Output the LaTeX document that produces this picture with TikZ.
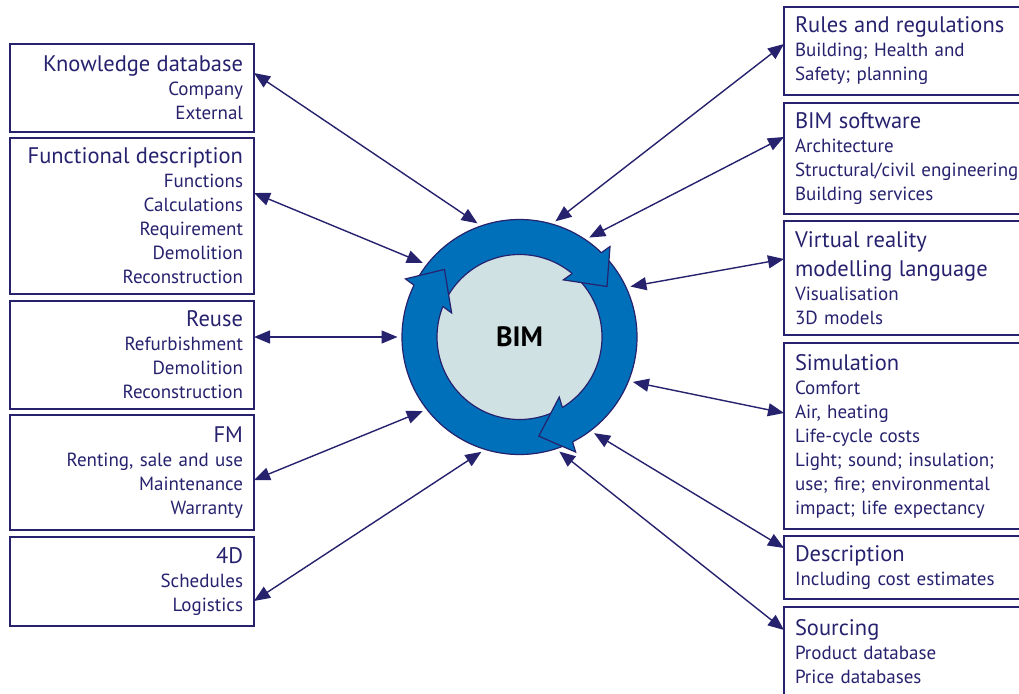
\documentclass[tikz,border=0pt]{standalone}
\usepackage{fontspec}
\setmainfont{PT Sans}
\usetikzlibrary{arrows.meta,calc}
\definecolor{navy}{RGB}{38,34,110}
\definecolor{ringblue}{RGB}{0,112,186}
\definecolor{corefill}{RGB}{208,225,228}
\newcommand\bsubfont{\fontsize{19}{24}\selectfont}
\newcommand\bttlfont{\fontsize{22.5}{24}\selectfont}
\newcommand\ringhead[1]{%
  \path (#1:128pt) coordinate (ow) (#1-15:101pt) coordinate (tp) (#1+7.5:72pt) coordinate (iw);
  \fill[ringblue] (ow) -- (tp) -- (iw) -- cycle;
  \draw[navy, line width=1.2pt, line join=miter] ($(iw)!0.81!(ow)$) -- (ow) -- (tp) -- (iw) -- ($(iw)!0.19!(ow)$);
}
\begin{document}
\begin{tikzpicture}[x=1pt,y=-1pt,
  box/.style={draw=navy, line width=1.4pt, inner xsep=11pt, inner ysep=0pt, outer sep=0pt,
    anchor=north west, font=\bsubfont, text=navy},
  lbox/.style={box, align=right, minimum width=244pt, text width=222pt},
  rbox/.style={box, align=left, minimum width=276pt, text width=254pt},
  conn/.style={draw=navy, line width=1.4pt, shorten >=4.5pt,
    {Triangle[length=16pt,width=13pt]}-{Triangle[length=16pt,width=13pt]}}
]
\useasboundingbox (0,0) rectangle (1019,693);
\clip (0,0) rectangle (1019,693);
\fill[white] (0,0) rectangle (1019,693);

% left boxes
\node[lbox, minimum height=88pt] (kd) at (10,44) {{\bttlfont Knowledge database}\\Company\\External};
\node[lbox, minimum height=156pt] (fd) at (10,138) {{\bttlfont Functional description}\\Functions\\Calculations\\Requirement\\Demolition\\Reconstruction};
\node[lbox, minimum height=108pt] (ru) at (10,301) {{\bttlfont Reuse}\\Refurbishment\\Demolition\\Reconstruction};
\node[lbox, minimum height=115pt] (fm) at (10,415) {{\bttlfont FM}\\Renting, sale and use\\Maintenance\\Warranty};
\node[lbox, minimum height=89pt] (fd4) at (10,537) {{\bttlfont 4D}\\Schedules\\Logistics};

% right boxes
\node[rbox, minimum height=88pt] (rr) at (784,7) {{\bttlfont Rules and regulations}\\Building; Health and\\Safety; planning};
\node[rbox, minimum height=111pt] (bs) at (784,103) {{\bttlfont BIM software}\\Architecture\\Structural/civil engineering\\Building services};
\node[rbox, minimum height=114pt] (vr) at (784,221) {{\bttlfont Virtual reality}\\[5pt]{\bttlfont modelling language}\\Visualisation\\3D models};
\node[rbox, minimum height=186pt] (si) at (784,343) {{\bttlfont Simulation}\\Comfort\\Air, heating\\Life-cycle costs\\Light; sound; insulation;\\use; fire; environmental\\impact; life expectancy};
\node[rbox, minimum height=63pt] (de) at (784,536) {{\bttlfont Description}\\Including cost estimates};
\node[rbox, minimum height=90pt] (so) at (784,607) {{\bttlfont Sourcing}\\Product database\\Price databases};

% BIM circle
\node[circle, minimum size=235pt, inner sep=0pt, outer sep=0pt, fill=ringblue, draw=navy, line width=1.2pt] (bim) at (519.5,337) {};
\node[circle, minimum size=165pt, inner sep=0pt, fill=corefill, draw=navy, line width=1.2pt,
  font=\bfseries\fontsize{28}{30}\selectfont, text=black] (core) at (bim.center) {BIM};
\begin{scope}[shift={(bim.center)}]
  \ringhead{45}
  \ringhead{153}
  \ringhead{296}
\end{scope}

% connectors
\draw[conn] (kd.east |- 0,73) -- (bim.109);
\draw[conn] (fd.east |- 0,193) -- (bim.142);
\draw[conn] (ru.east |- 0,337) -- (bim.180);
\draw[conn] (fm.east |- 0,480) -- (bim.218);
\draw[conn] (fd4.east |- 0,601) -- (bim.253);
\draw[conn] (rr.west |- 0,44) -- (bim.74);
\draw[conn] (bs.west |- 0,137) -- (bim.56);
\draw[conn] (vr.west |- 0,259) -- (bim.25);
\draw[conn] (si.west |- 0,413) -- (bim.338);
\draw[conn] (de.west |- 0,548) -- (bim.307);
\draw[conn] (so.west |- 0,630) -- (bim.288);
\end{tikzpicture}
\end{document}
